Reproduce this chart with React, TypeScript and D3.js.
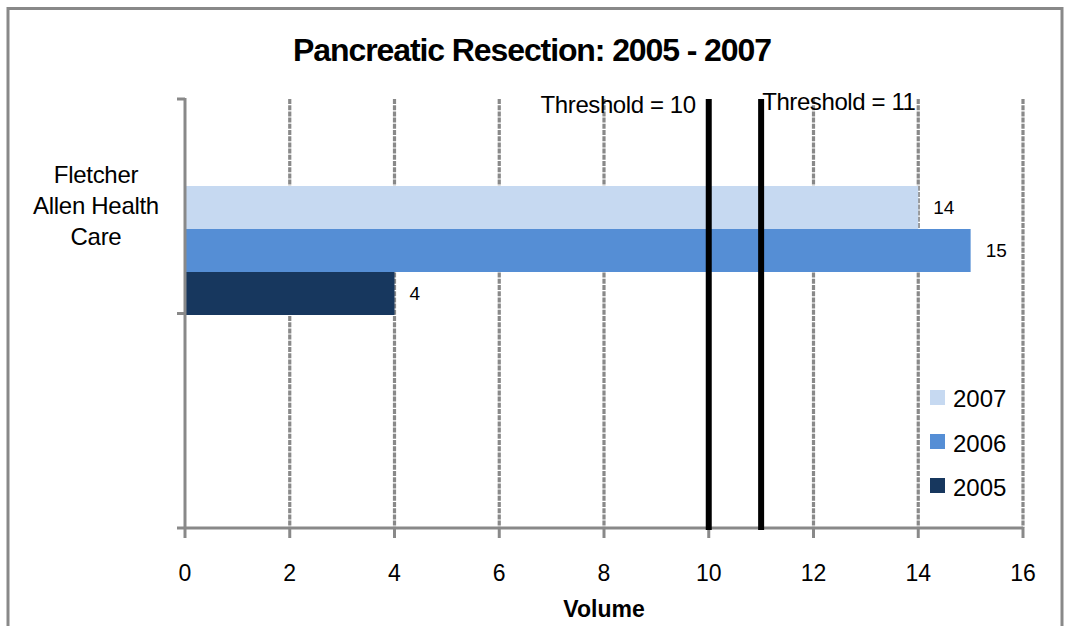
import React from "react";
import * as d3 from "d3";

const categories = ["Fletcher Allen Health Care", ""];
const categoryLines = [["Fletcher", "Allen Health", "Care"], []];
const seriesNames = ["2007", "2006", "2005"];
const seriesValues = [14, 15, 4];
const seriesColors = ["#c6d9f1", "#558ed5", "#17375e"];
const xTicks = [0, 2, 4, 6, 8, 10, 12, 14, 16];
const thresholds = [10, 11];
const thresholdLabels = ["Threshold = 10", "Threshold = 11"];

const W = 1065, H = 626;
const L = 185, R = 1023, T = 99, B = 528;
const FONT = "'Liberation Sans', Arial, Helvetica, sans-serif";
const GRID = "#898989";

export default function App() {
  const x = d3.scaleLinear().domain([0, 16]).range([L, R]);
  const yCat = d3.scaleBand<string>().domain(categories).range([T, B]).paddingInner(0).paddingOuter(0);
  const groupOffset = 87;
  const yS = d3.scaleBand<string>().domain(seriesNames).range([0, 129]).padding(0);
  const catTop = yCat(categories[0]) as number;
  const bw = yS.bandwidth();

  return (
    <svg width={W} height={H} style={{ position: "absolute", left: 0, top: 0, background: "#fff" }} fontFamily={FONT}>
      <rect x={8} y={8.5} width={1054} height={660} fill="#fff" stroke={GRID} strokeWidth={3} />
      <text x={532} y={61} textAnchor="middle" fontSize={32} fontWeight="bold" letterSpacing={-1.1}>
        Pancreatic Resection: 2005 - 2007
      </text>

      {/* gridlines */}
      {xTicks.filter((t) => t > 0).map((t) => (
        <line key={"g" + t} x1={x(t)} x2={x(t)} y1={T} y2={B} stroke={GRID} strokeWidth={3.2} strokeDasharray="5,1.2" />
      ))}

      {/* bars */}
      {seriesNames.map((s, i) => {
        const y0 = catTop + groupOffset + (yS(s) as number);
        return (
          <g key={s}>
            <rect x={x(0)} y={y0} width={x(seriesValues[i]) - x(0)} height={bw} fill={seriesColors[i]} />
            <text x={x(seriesValues[i]) + 15} y={y0 + bw / 2} dy="0.35em" fontSize={19}>
              {seriesValues[i]}
            </text>
          </g>
        );
      })}

      {/* axes */}
      <line x1={L} x2={L} y1={T - 1} y2={B + 1} stroke={GRID} strokeWidth={3} />
      <line x1={L - 1} x2={R} y1={B} y2={B} stroke={GRID} strokeWidth={3} />
      {[T, ...categories.map((c) => (yCat(c) as number) + yCat.bandwidth())].map((yy, i) => (
        <line key={"yt" + i} x1={L - 8} x2={L} y1={yy} y2={yy} stroke={GRID} strokeWidth={3} />
      ))}
      {xTicks.map((t) => (
        <g key={"xt" + t}>
          <line x1={x(t)} x2={x(t)} y1={B} y2={B + 10} stroke={GRID} strokeWidth={3} />
          <text x={x(t)} y={581} textAnchor="middle" fontSize={23}>{t}</text>
        </g>
      ))}
      <text x={(L + R) / 2} y={617} textAnchor="middle" fontSize={23} fontWeight="bold">Volume</text>

      {/* category labels */}
      {categories.map((c, ci) => {
        const cy = (yCat(c) as number) + yCat.bandwidth() / 2;
        const lines = categoryLines[ci];
        return lines.map((ln, li) => (
          <text key={c + li} x={96} y={cy + 8 + (li - (lines.length - 1) / 2) * 31} textAnchor="middle" fontSize={24} letterSpacing={-0.3}>
            {ln}
          </text>
        ));
      })}

      {/* thresholds */}
      {thresholds.map((t, i) => (
        <g key={"th" + t}>
          <line x1={x(t)} x2={x(t)} y1={T} y2={B + 2} stroke="#000" strokeWidth={6} />
          <text
            x={i === 0 ? x(t) - 13 : x(t) + 1}
            y={i === 0 ? 113 : 110}
            textAnchor={i === 0 ? "end" : "start"}
            fontSize={24}
            letterSpacing={-0.4}
          >
            {thresholdLabels[i]}
          </text>
        </g>
      ))}

      {/* legend */}
      {seriesNames.map((s, i) => (
        <g key={"lg" + s}>
          <rect x={930} y={390 + i * 44} width={15} height={15} fill={seriesColors[i]} />
          <text x={953} y={407 + i * 44.5} fontSize={24}>{s}</text>
        </g>
      ))}
    </svg>
  );
}
